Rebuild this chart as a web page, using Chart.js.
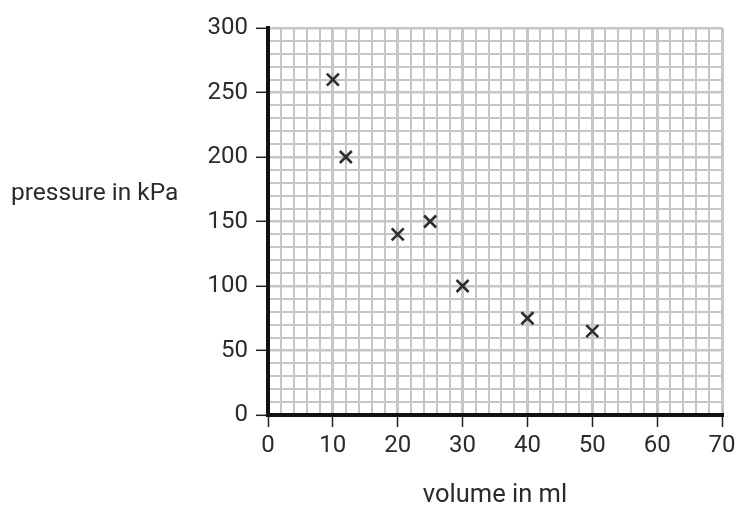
<!DOCTYPE html>
<html>
<head>
<meta charset="utf-8">
<script src="https://cdn.jsdelivr.net/npm/chart.js@4.4.1/dist/chart.umd.min.js"></script>
<style>
  html, body { margin: 0; padding: 0; background: #fff; }
  #wrap { width: 737px; height: 513px; }
</style>
</head>
<body>
<div id="wrap"><canvas id="myChart" width="737" height="513"></canvas></div>
<script>
// readings off the graph paper
const volumes = [10, 12, 20, 25, 30, 40, 50];
const pressures = [260, 200, 140, 150, 100, 75, 65];
const xTickLabels = [0, 10, 20, 30, 40, 50, 60, 70];
const yTickLabels = [0, 50, 100, 150, 200, 250, 300];

const fontFamily = 'Roboto, "Liberation Sans", sans-serif';
const textColour = '#2b2b2b';

// axis titles sit outside the usual places (the y one is horizontal)
const axisTitles = {
    id: 'axisTitles',
    afterDraw(chart) {
        const ctx = chart.ctx;
        ctx.save();
        ctx.fillStyle = textColour;
        ctx.textBaseline = 'middle';
        ctx.textAlign = 'left';
        ctx.font = '24.5px ' + fontFamily;
        ctx.fillText('pressure in kPa', 11, 194);
        ctx.textAlign = 'center';
        ctx.font = '25.5px ' + fontFamily;
        ctx.fillText('volume in ml', 495, 496);
        ctx.restore();
    }
};

const isMajorX = v => v % 10 === 0;
const isMajorY = v => v % 50 === 0;

const ctx = document.getElementById('myChart').getContext('2d');
const myChart = new Chart(ctx, {
    type: 'scatter',
    data: {
        datasets: [{
            data: volumes.map((v, i) => ({ x: v, y: pressures[i] })),
            pointStyle: 'crossRot',
            pointRadius: 8.5,
            pointBorderWidth: 2.6,
            borderColor: '#2e2e2e',
            backgroundColor: '#2e2e2e',
        }]
    },
    options: {
        responsive: false,
        animation: false,
        layout: { padding: { top: 28, right: 15, left: 0, bottom: 0 } },
        plugins: {
            legend: { display: false },
            tooltip: { enabled: false },
        },
        scales: {
            x: {
                type: 'linear',
                min: 0,
                max: 70,
                afterFit: scale => {
                    scale.height = 98;
                    // label "70" may hang into the right margin
                    scale.paddingRight = 0;
                    scale.paddingLeft = 0;
                },
                border: { color: '#111', width: 4 },
                grid: {
                    color: '#c6c6c6',
                    lineWidth: c => isMajorX(c.tick.value) ? 3 : 2,
                    tickLength: 12,
                    tickColor: c => isMajorX(c.tick.value) ? '#222' : 'rgba(0,0,0,0)',
                    tickWidth: 1.5,
                },
                ticks: {
                    stepSize: 2,
                    autoSkip: false,
                    maxRotation: 0,
                    padding: 5,
                    color: textColour,
                    font: { family: fontFamily, size: 24 },
                    callback: v => xTickLabels.includes(v) ? String(v) : '',
                },
            },
            y: {
                type: 'linear',
                min: 0,
                max: 300,
                afterFit: scale => { scale.width = 268; },
                border: { color: '#111', width: 4 },
                grid: {
                    color: '#c6c6c6',
                    lineWidth: c => isMajorY(c.tick.value) ? 2.6 : 2,
                    tickLength: 12,
                    tickColor: c => isMajorY(c.tick.value) ? '#222' : 'rgba(0,0,0,0)',
                    tickWidth: 1.5,
                },
                ticks: {
                    stepSize: 10,
                    autoSkip: false,
                    padding: 8,
                    color: textColour,
                    font: { family: fontFamily, size: 24 },
                    callback: v => yTickLabels.includes(v) ? String(v) : '',
                },
            },
        },
    },
    plugins: [axisTitles],
});
</script>
</body>
</html>
